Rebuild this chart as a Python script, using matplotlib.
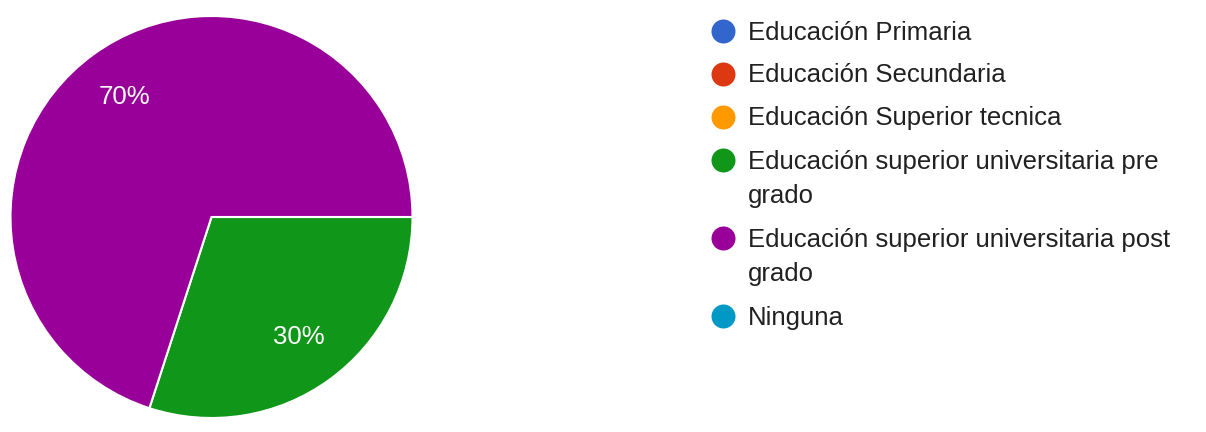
import textwrap
import matplotlib
matplotlib.use("Agg")
import matplotlib.pyplot as plt
from matplotlib.patches import Ellipse

# Survey responses: highest level of education
categories = [
    "Educación Primaria",
    "Educación Secundaria",
    "Educación Superior tecnica",
    "Educación superior universitaria pre grado",
    "Educación superior universitaria post grado",
    "Ninguna",
]
percentages = [0, 0, 0, 30, 70, 0]
colors = ["#3366cc", "#dc3912", "#ff9900", "#109618", "#990099", "#0099c6"]

W, H = 1206, 432
plt.rcParams["font.family"] = ["Liberation Sans", "DejaVu Sans"]
fig = plt.figure(figsize=(W / 100, H / 100), dpi=100)
fig.patch.set_facecolor("white")

# Pie chart
cx, cy, r = 211.5, 217, 201
ax = fig.add_axes([(cx - r) / W, (H - cy - r) / H, 2 * r / W, 2 * r / H])
shown = [(v, c) for v, c in zip(percentages, colors) if v > 0]
wedges, texts, autotexts = ax.pie(
    [v for v, _ in shown],
    colors=[c for _, c in shown],
    startangle=0,
    counterclock=False,
    radius=1,
    autopct=lambda p: f"{p:.0f}%",
    pctdistance=0.735,
    wedgeprops=dict(edgecolor="white", linewidth=1.5),
    textprops=dict(color="white", fontsize=18.5),
)
ax.set_xlim(-1.0, 1.0)
ax.set_ylim(-1.0, 1.0)
ax.set_aspect("equal")
ax.axis("off")

# Legend drawn in pixel positions
lax = fig.add_axes([0, 0, 1, 1])
lax.set_xlim(0, W)
lax.set_ylim(H, 0)
lax.axis("off")

marker_x, text_x = 723.5, 748
y = 39.5
line_h, item_gap = 35, 8
for name, col in zip(categories, colors):
    lines = textwrap.wrap(name, width=37)
    lax.add_patch(Ellipse((marker_x, y - 8), 24, 24, color=col, lw=0))
    for i, ln in enumerate(lines):
        lax.text(text_x, y + i * line_h, ln, fontsize=18.5, color="#212121",
                 ha="left", va="baseline")
    y += len(lines) * line_h + item_gap

fig.savefig("out.png", dpi=100, facecolor="white")
